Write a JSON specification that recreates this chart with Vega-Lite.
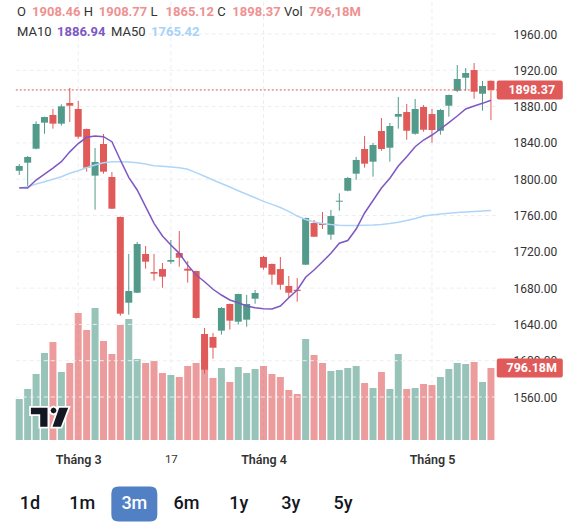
{
  "$schema": "https://vega.github.io/schema/vega-lite/v6.json",
  "width": 580,
  "height": 530,
  "autosize": "none",
  "padding": 0,
  "background": "#ffffff",
  "config": {"view": {"stroke": null}, "font": "Roboto"},
  "datasets": {
    "candles": [
      {"i": 0, "o": 1809.4, "h": 1816.8, "l": 1804.6, "c": 1814.6, "v": 453.5, "ma10": 1790.6, "ma50": 1790.0},
      {"i": 1, "o": 1818.2, "h": 1825.6, "l": 1792.5, "c": 1824.5, "v": 564.2, "ma10": 1790.3, "ma50": 1791.7},
      {"i": 2, "o": 1833.6, "h": 1863.8, "l": 1833.0, "c": 1860.8, "v": 730.1, "ma10": 1799.1, "ma50": 1794.7},
      {"i": 3, "o": 1862.3, "h": 1868.9, "l": 1850.1, "c": 1868.5, "v": 962.4, "ma10": 1805.7, "ma50": 1797.2},
      {"i": 4, "o": 1870.8, "h": 1877.4, "l": 1855.7, "c": 1861.2, "v": 1084.1, "ma10": 1812.3, "ma50": 1799.9},
      {"i": 5, "o": 1861.2, "h": 1882.5, "l": 1859.0, "c": 1880.3, "v": 752.2, "ma10": 1819.3, "ma50": 1802.7},
      {"i": 6, "o": 1884.0, "h": 1900.5, "l": 1863.0, "c": 1881.0, "v": 851.8, "ma10": 1830.1, "ma50": 1806.5},
      {"i": 7, "o": 1877.4, "h": 1886.2, "l": 1844.6, "c": 1846.8, "v": 1404.9, "ma10": 1839.3, "ma50": 1809.4},
      {"i": 8, "o": 1855.3, "h": 1855.8, "l": 1808.3, "c": 1812.7, "v": 1216.8, "ma10": 1846.2, "ma50": 1812.7},
      {"i": 9, "o": 1803.9, "h": 1834.4, "l": 1766.4, "c": 1819.0, "v": 1460.2, "ma10": 1847.6, "ma50": 1815.6},
      {"i": 10, "o": 1838.8, "h": 1849.8, "l": 1806.1, "c": 1808.3, "v": 1095.1, "ma10": 1846.8, "ma50": 1818.2},
      {"i": 11, "o": 1802.4, "h": 1807.9, "l": 1767.0, "c": 1767.5, "v": 951.3, "ma10": 1841.3, "ma50": 1819.3},
      {"i": 12, "o": 1758.4, "h": 1758.8, "l": 1649.6, "c": 1651.8, "v": 1272.1, "ma10": 1821.2, "ma50": 1819.3},
      {"i": 13, "o": 1663.9, "h": 1717.6, "l": 1650.7, "c": 1676.8, "v": 1338.5, "ma10": 1802.1, "ma50": 1818.9},
      {"i": 14, "o": 1674.9, "h": 1730.8, "l": 1674.5, "c": 1728.6, "v": 896.0, "ma10": 1788.1, "ma50": 1818.2},
      {"i": 15, "o": 1717.6, "h": 1726.4, "l": 1701.4, "c": 1709.1, "v": 851.8, "ma10": 1769.7, "ma50": 1816.7},
      {"i": 16, "o": 1697.7, "h": 1717.6, "l": 1688.2, "c": 1695.9, "v": 873.9, "ma10": 1751.4, "ma50": 1814.9},
      {"i": 17, "o": 1701.0, "h": 1707.7, "l": 1680.4, "c": 1692.6, "v": 741.2, "ma10": 1737.4, "ma50": 1814.2},
      {"i": 18, "o": 1709.1, "h": 1733.0, "l": 1706.9, "c": 1711.0, "v": 719.0, "ma10": 1727.5, "ma50": 1813.4},
      {"i": 19, "o": 1718.7, "h": 1742.9, "l": 1703.6, "c": 1713.5, "v": 696.9, "ma10": 1718.3, "ma50": 1812.7},
      {"i": 20, "o": 1701.4, "h": 1709.9, "l": 1686.0, "c": 1699.2, "v": 818.6, "ma10": 1705.3, "ma50": 1810.9},
      {"i": 21, "o": 1698.8, "h": 1699.2, "l": 1646.3, "c": 1647.1, "v": 851.8, "ma10": 1694.4, "ma50": 1807.2},
      {"i": 22, "o": 1629.4, "h": 1636.0, "l": 1585.7, "c": 1590.1, "v": 984.5, "ma10": 1687.0, "ma50": 1803.2},
      {"i": 23, "o": 1626.1, "h": 1630.5, "l": 1602.2, "c": 1614.3, "v": 685.8, "ma10": 1678.7, "ma50": 1799.1},
      {"i": 24, "o": 1633.1, "h": 1659.2, "l": 1628.7, "c": 1658.1, "v": 796.5, "ma10": 1672.4, "ma50": 1795.3},
      {"i": 25, "o": 1662.5, "h": 1662.9, "l": 1634.2, "c": 1644.1, "v": 641.6, "ma10": 1666.9, "ma50": 1791.4},
      {"i": 26, "o": 1643.0, "h": 1673.9, "l": 1639.7, "c": 1673.5, "v": 807.5, "ma10": 1663.9, "ma50": 1787.3},
      {"i": 27, "o": 1645.2, "h": 1672.4, "l": 1637.5, "c": 1662.5, "v": 741.2, "ma10": 1660.3, "ma50": 1783.4},
      {"i": 28, "o": 1668.3, "h": 1677.9, "l": 1662.8, "c": 1674.6, "v": 785.4, "ma10": 1658.4, "ma50": 1779.5},
      {"i": 29, "o": 1714.3, "h": 1715.4, "l": 1700.3, "c": 1702.5, "v": 818.6, "ma10": 1657.3, "ma50": 1775.6},
      {"i": 30, "o": 1706.6, "h": 1707.0, "l": 1683.7, "c": 1694.8, "v": 730.1, "ma10": 1657.0, "ma50": 1772.3},
      {"i": 31, "o": 1701.0, "h": 1714.3, "l": 1678.2, "c": 1683.7, "v": 696.9, "ma10": 1660.3, "ma50": 1768.8},
      {"i": 32, "o": 1682.3, "h": 1693.3, "l": 1669.4, "c": 1674.9, "v": 553.1, "ma10": 1669.4, "ma50": 1764.6},
      {"i": 33, "o": 1678.2, "h": 1691.1, "l": 1665.0, "c": 1676.8, "v": 508.8, "ma10": 1677.9, "ma50": 1759.4},
      {"i": 34, "o": 1705.8, "h": 1757.6, "l": 1705.4, "c": 1757.2, "v": 1117.3, "ma10": 1691.9, "ma50": 1755.6},
      {"i": 35, "o": 1751.7, "h": 1755.0, "l": 1736.3, "c": 1736.6, "v": 940.3, "ma10": 1699.9, "ma50": 1752.8},
      {"i": 36, "o": 1751.7, "h": 1763.9, "l": 1745.1, "c": 1749.5, "v": 851.8, "ma10": 1709.1, "ma50": 1751.2},
      {"i": 37, "o": 1738.9, "h": 1766.1, "l": 1733.3, "c": 1759.4, "v": 763.3, "ma10": 1718.3, "ma50": 1750.1},
      {"i": 38, "o": 1775.2, "h": 1784.5, "l": 1765.3, "c": 1776.3, "v": 774.3, "ma10": 1729.4, "ma50": 1749.3},
      {"i": 39, "o": 1787.3, "h": 1802.4, "l": 1786.7, "c": 1801.3, "v": 796.5, "ma10": 1732.4, "ma50": 1749.0},
      {"i": 40, "o": 1806.1, "h": 1824.5, "l": 1799.4, "c": 1821.2, "v": 818.6, "ma10": 1745.1, "ma50": 1749.0},
      {"i": 41, "o": 1833.3, "h": 1847.6, "l": 1812.7, "c": 1817.1, "v": 630.5, "ma10": 1762.8, "ma50": 1749.2},
      {"i": 42, "o": 1819.3, "h": 1839.9, "l": 1802.8, "c": 1837.7, "v": 575.2, "ma10": 1776.5, "ma50": 1749.5},
      {"i": 43, "o": 1853.1, "h": 1867.4, "l": 1831.4, "c": 1833.3, "v": 752.2, "ma10": 1790.3, "ma50": 1750.1},
      {"i": 44, "o": 1834.7, "h": 1861.9, "l": 1819.3, "c": 1858.6, "v": 564.2, "ma10": 1801.0, "ma50": 1751.2},
      {"i": 45, "o": 1868.9, "h": 1890.6, "l": 1855.7, "c": 1871.9, "v": 951.3, "ma10": 1814.5, "ma50": 1752.6},
      {"i": 46, "o": 1874.0, "h": 1882.9, "l": 1843.5, "c": 1853.4, "v": 564.2, "ma10": 1824.8, "ma50": 1754.5},
      {"i": 47, "o": 1850.1, "h": 1888.4, "l": 1849.0, "c": 1877.4, "v": 575.2, "ma10": 1835.8, "ma50": 1756.7},
      {"i": 48, "o": 1879.6, "h": 1881.8, "l": 1852.3, "c": 1854.5, "v": 619.5, "ma10": 1843.2, "ma50": 1759.4},
      {"i": 49, "o": 1871.8, "h": 1877.4, "l": 1840.2, "c": 1854.2, "v": 608.4, "ma10": 1848.7, "ma50": 1760.5},
      {"i": 50, "o": 1853.4, "h": 1877.4, "l": 1849.0, "c": 1876.3, "v": 696.9, "ma10": 1855.3, "ma50": 1761.6},
      {"i": 51, "o": 1881.0, "h": 1893.2, "l": 1868.9, "c": 1892.8, "v": 785.4, "ma10": 1862.3, "ma50": 1762.5},
      {"i": 52, "o": 1897.5, "h": 1925.8, "l": 1896.1, "c": 1910.4, "v": 851.8, "ma10": 1869.6, "ma50": 1763.3},
      {"i": 53, "o": 1911.8, "h": 1922.5, "l": 1897.5, "c": 1917.0, "v": 840.7, "ma10": 1877.4, "ma50": 1763.9},
      {"i": 54, "o": 1920.3, "h": 1928.0, "l": 1888.7, "c": 1896.4, "v": 862.8, "ma10": 1880.7, "ma50": 1764.5},
      {"i": 55, "o": 1894.2, "h": 1908.2, "l": 1875.5, "c": 1902.7, "v": 641.6, "ma10": 1883.6, "ma50": 1765.0},
      {"i": 56, "o": 1908.46, "h": 1908.77, "l": 1865.12, "c": 1898.37, "v": 796.18, "ma10": 1886.94, "ma50": 1765.42}
    ],
    "ticks": [
      {"i": 7, "label": "Tháng 3"},
      {"i": 18, "label": "17"},
      {"i": 29, "label": "Tháng 4"},
      {"i": 49, "label": "Tháng 5"}
    ],
    "levels": [
      {"p": 1560}, {"p": 1600}, {"p": 1640}, {"p": 1680}, {"p": 1720}, {"p": 1760},
      {"p": 1800}, {"p": 1840}, {"p": 1880}, {"p": 1920}, {"p": 1960}
    ],
    "ohlc": [
      {"key": "O", "value": "1908.46"},
      {"key": "H", "value": "1908.77"},
      {"key": "L", "value": "1865.12"},
      {"key": "C", "value": "1898.37"},
      {"key": "Vol", "value": "796,18M"}
    ],
    "averages": [
      {"key": "MA10", "value": "1886.94"},
      {"key": "MA50", "value": "1765.42"}
    ],
    "ranges": [
      {"label": "1d", "active": false},
      {"label": "1m", "active": false},
      {"label": "3m", "active": true},
      {"label": "6m", "active": false},
      {"label": "1y", "active": false},
      {"label": "3y", "active": false},
      {"label": "5y", "active": false}
    ]
  },
  "layer": [
    {
      "layer": [
        {
          "layer": [
            {
              "data": {"name": "ticks"},
              "mark": {"type": "rule", "color": "#ECEEF2", "strokeWidth": 1, "strokeDash": [4, 3]},
              "encoding": {
                "x": {
                  "field": "i", "type": "quantitative",
                  "scale": {"domain": [-1.6917, 65.978], "nice": false, "zero": false},
                  "axis": {
                    "orient": "bottom", "offset": -80, "values": [7, 18, 29, 49],
                    "labelExpr": "datum.value == 7 ? 'Tháng 3' : datum.value == 18 ? '17' : datum.value == 29 ? 'Tháng 4' : 'Tháng 5'",
                    "title": null, "grid": false, "domain": false, "ticks": false, "tickSize": 0,
                    "labelPadding": 3, "labelBaseline": "top", "labelColor": "#333333", "labelFont": "Roboto",
                    "labelFontSize": {"condition": {"test": "datum.value == 18", "value": 11.5}, "value": 12.5},
                    "labelFontWeight": {"condition": {"test": "datum.value == 18", "value": "normal"}, "value": 600},
                    "labelOverlap": false, "labelFlush": false, "zindex": 0
                  }
                },
                "y": {"datum": 0, "type": "quantitative", "scale": {"domain": [-995.6, 4867.3], "nice": false, "zero": false}, "axis": null},
                "y2": {"datum": 4867.3}
              }
            },
            {
              "data": {"name": "candles"},
              "mark": {"type": "bar", "width": 7, "opacity": 0.6},
              "encoding": {
                "x": {"field": "i", "type": "quantitative"},
                "y": {"field": "v", "type": "quantitative", "axis": null},
                "y2": {"datum": 0},
                "color": {"condition": {"test": "datum.c < datum.o", "value": "#E05A5A"}, "value": "#529B8A"}
              }
            },
            {
              "data": {"values": [{"brand": "TradingView"}]},
              "mark": {"type": "point", "filled": true, "opacity": 1, "size": 400, "color": "#ffffff", "stroke": "#ffffff", "strokeWidth": 3.5,
                "shape": "M-1.88,-0.88L-0.22,-0.88L-0.22,1.02L-0.95,1.02L-0.95,-0.22L-1.88,-0.22Z M0.95,-0.88L1.85,-0.88L1.12,1.02L0.28,1.02Z M0.68,-0.6L0.59,-0.39L0.38,-0.3L0.17,-0.39L0.08,-0.6L0.17,-0.81L0.38,-0.9L0.59,-0.81Z"},
              "encoding": {
                "x": {"datum": 3.617, "type": "quantitative"},
                "y": {"datum": 260, "type": "quantitative", "axis": null}
              }
            },
            {
              "data": {"values": [{"brand": "TradingView"}]},
              "mark": {"type": "point", "filled": true, "opacity": 1, "size": 400, "color": "#131722", "strokeWidth": 0,
                "shape": "M-1.88,-0.88L-0.22,-0.88L-0.22,1.02L-0.95,1.02L-0.95,-0.22L-1.88,-0.22Z M0.95,-0.88L1.85,-0.88L1.12,1.02L0.28,1.02Z M0.68,-0.6L0.59,-0.39L0.38,-0.3L0.17,-0.39L0.08,-0.6L0.17,-0.81L0.38,-0.9L0.59,-0.81Z"},
              "encoding": {
                "x": {"datum": 3.617, "type": "quantitative"},
                "y": {"datum": 260, "type": "quantitative", "axis": null}
              }
            },
            {
              "data": {"name": "candles"},
              "transform": [{"filter": "datum.i == 56"}],
              "mark": {"type": "point", "filled": true, "opacity": 1, "size": 361, "strokeWidth": 0,
                "shape": "M-3.26,-1L3.26,-1Q3.474,-1 3.474,-0.79L3.474,0.79Q3.474,1 3.26,1L-3.26,1Q-3.474,1 -3.474,0.79L-3.474,-0.79Q-3.474,-1 -3.26,-1Z"},
              "encoding": {
                "x": {"datum": 60.61, "type": "quantitative"},
                "y": {"field": "v", "type": "quantitative", "axis": null},
                "color": {"condition": {"test": "datum.c < datum.o", "value": "#E05A5A"}, "value": "#529B8A"}
              }
            },
            {
              "data": {"name": "candles"},
              "transform": [
                {"filter": "datum.i == 56"},
                {"calculate": "format(datum.v, '.2f') + 'M'", "as": "volText"}
              ],
              "mark": {"type": "text", "color": "#ffffff", "fontSize": 12.5, "fontWeight": "bold", "align": "center", "baseline": "middle"},
              "encoding": {
                "x": {"datum": 60.84, "type": "quantitative"},
                "y": {"field": "v", "type": "quantitative", "axis": null},
                "text": {"field": "volText"}
              }
            }
          ]
        },
        {
          "layer": [
            {
              "data": {"name": "levels"},
              "mark": {"type": "rule", "color": "#ECEEF2", "strokeWidth": 1, "strokeDash": [4, 3]},
              "encoding": {
                "x": {"datum": -0.41, "type": "quantitative"},
                "x2": {"datum": 56.76},
                "y": {
                  "field": "p", "type": "quantitative",
                  "scale": {"domain": [1413.444, 1997.466], "nice": false, "zero": false},
                  "axis": {
                    "orient": "right", "offset": -67, "values": [1560, 1600, 1640, 1680, 1720, 1760, 1800, 1840, 1880, 1920, 1960],
                    "format": ".2f", "title": null, "grid": false, "domain": false, "ticks": false, "tickSize": 0,
                    "labelPadding": 0, "labelFontSize": 12, "labelColor": "#333333", "labelFont": "Roboto",
                    "labelOverlap": false, "labelFlush": false, "zindex": 0
                  }
                }
              }
            },
            {
              "data": {"name": "candles"},
              "mark": {"type": "rule", "strokeWidth": 1},
              "encoding": {
                "x": {"field": "i", "type": "quantitative"},
                "y": {"field": "l", "type": "quantitative"},
                "y2": {"field": "h"},
                "color": {"condition": {"test": "datum.c < datum.o", "value": "#E05A5A"}, "value": "#529B8A"}
              }
            },
            {
              "data": {"name": "candles"},
              "mark": {"type": "bar", "width": 7},
              "encoding": {
                "x": {"field": "i", "type": "quantitative"},
                "y": {"field": "o", "type": "quantitative"},
                "y2": {"field": "c"},
                "color": {"condition": {"test": "datum.c < datum.o", "value": "#E05A5A"}, "value": "#529B8A"}
              }
            },
            {
              "data": {"name": "candles"},
              "mark": {"type": "line", "color": "#AFD6F8", "strokeWidth": 1.5},
              "encoding": {
                "x": {"field": "i", "type": "quantitative"},
                "y": {"field": "ma50", "type": "quantitative"}
              }
            },
            {
              "data": {"name": "candles"},
              "mark": {"type": "line", "color": "#7E57C2", "strokeWidth": 1.5},
              "encoding": {
                "x": {"field": "i", "type": "quantitative"},
                "y": {"field": "ma10", "type": "quantitative"}
              }
            },
            {
              "data": {"name": "candles"},
              "transform": [{"filter": "datum.i == 56"}],
              "mark": {"type": "rule", "strokeWidth": 1, "strokeDash": [2, 2]},
              "encoding": {
                "x": {"datum": -0.41, "type": "quantitative"},
                "x2": {"datum": 56.76},
                "y": {"field": "c", "type": "quantitative"},
                "color": {"condition": {"test": "datum.c < datum.o", "value": "#E05A5A"}, "value": "#529B8A"}
              }
            },
            {
              "data": {"name": "candles"},
              "transform": [{"filter": "datum.i == 56"}],
              "mark": {"type": "point", "filled": true, "opacity": 1, "size": 361, "strokeWidth": 0,
                "shape": "M-3.26,-1L3.26,-1Q3.474,-1 3.474,-0.79L3.474,0.79Q3.474,1 3.26,1L-3.26,1Q-3.474,1 -3.474,0.79L-3.474,-0.79Q-3.474,-1 -3.26,-1Z"},
              "encoding": {
                "x": {"datum": 60.61, "type": "quantitative"},
                "y": {"field": "c", "type": "quantitative"},
                "color": {"condition": {"test": "datum.c < datum.o", "value": "#E05A5A"}, "value": "#529B8A"}
              }
            },
            {
              "data": {"name": "candles"},
              "transform": [{"filter": "datum.i == 56"}],
              "mark": {"type": "text", "color": "#ffffff", "fontSize": 12.5, "fontWeight": "bold", "align": "center", "baseline": "middle"},
              "encoding": {
                "x": {"datum": 60.84, "type": "quantitative"},
                "y": {"field": "c", "type": "quantitative"},
                "text": {"field": "c", "format": ".2f"}
              }
            }
          ]
        }
      ],
      "resolve": {"scale": {"y": "independent"}}
    },
    {
      "data": {"name": "ohlc"},
      "encoding": {
        "x": {"field": "key", "type": "nominal", "sort": null, "scale": {"type": "point", "domain": ["O", "H", "L", "C", "Vol"], "range": [17, 284], "padding": 0}, "axis": null},
        "y": {"datum": "ohlc", "type": "nominal", "scale": {"type": "point", "domain": ["ohlc"], "range": [12, 12]}, "axis": null}
      },
      "layer": [
        {
          "mark": {"type": "text", "align": "left", "baseline": "middle", "fontSize": 13, "color": "#333333"},
          "encoding": {"text": {"field": "key"}}
        },
        {
          "transform": [{"filter": "datum.key != 'Vol'"}],
          "mark": {"type": "text", "align": "left", "baseline": "middle", "fontSize": 13, "fontWeight": "bold", "color": "#EE9191", "dx": 15},
          "encoding": {"text": {"field": "value"}}
        },
        {
          "transform": [{"filter": "datum.key == 'Vol'"}],
          "mark": {"type": "text", "align": "left", "baseline": "middle", "fontSize": 13, "fontWeight": "bold", "color": "#EE9191", "dx": 25},
          "encoding": {"text": {"field": "value"}}
        }
      ]
    },
    {
      "data": {"name": "averages"},
      "encoding": {
        "x": {"field": "key", "type": "nominal", "sort": null, "scale": {"type": "point", "domain": ["MA10", "MA50"], "range": [17, 111], "padding": 0}, "axis": null},
        "y": {"datum": "ma", "type": "nominal", "scale": {"type": "point", "domain": ["ma"], "range": [32, 32]}, "axis": null}
      },
      "layer": [
        {
          "mark": {"type": "text", "align": "left", "baseline": "middle", "fontSize": 13, "color": "#333333"},
          "encoding": {"text": {"field": "key"}}
        },
        {
          "mark": {"type": "text", "align": "left", "baseline": "middle", "fontSize": 13, "fontWeight": "bold", "dx": 40},
          "encoding": {
            "text": {"field": "value"},
            "color": {"field": "key", "type": "nominal", "scale": {"domain": ["MA10", "MA50"], "range": ["#7E57C2", "#A6D2F7"]}, "legend": null}
          }
        }
      ]
    },
    {
      "data": {"name": "ranges"},
      "encoding": {
        "x": {"field": "label", "type": "nominal", "sort": null, "scale": {"type": "point", "domain": ["1d", "1m", "3m", "6m", "1y", "3y", "5y"], "range": [30, 343], "padding": 0}, "axis": null},
        "y": {"datum": "ranges", "type": "nominal", "scale": {"type": "point", "domain": ["ranges"], "range": [504, 504]}, "axis": null}
      },
      "layer": [
        {
          "transform": [{"filter": "datum.active"}],
          "mark": {"type": "point", "filled": true, "opacity": 1, "size": 1225, "color": "#5280C5", "strokeWidth": 0,
            "shape": "M-0.914,-1L0.914,-1Q1.314,-1 1.314,-0.6L1.314,0.6Q1.314,1 0.914,1L-0.914,1Q-1.314,1 -1.314,0.6L-1.314,-0.6Q-1.314,-1 -0.914,-1Z"}
        },
        {
          "mark": {"type": "text", "align": "center", "baseline": "middle", "fontSize": 18, "fontWeight": 500},
          "encoding": {
            "text": {"field": "label"},
            "color": {"condition": {"test": "datum.active", "value": "#ffffff"}, "value": "#131722"}
          }
        }
      ]
    }
  ],
  "resolve": {"scale": {"x": "independent", "y": "independent", "color": "independent"}}
}
